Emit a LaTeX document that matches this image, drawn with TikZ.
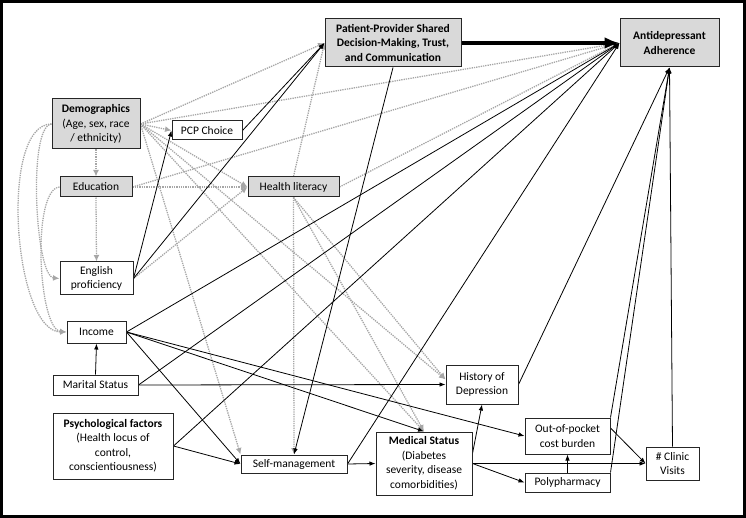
\documentclass[tikz,border=0pt]{standalone}
\usepackage{fontspec}
\setmainfont{Carlito}
\usepackage{tikz}
\usetikzlibrary{positioning}
\usetikzlibrary{backgrounds}
\usetikzlibrary{arrows.meta}
\tikzset{box/.style={draw=black!85, line width=1pt, fill=white, align=center, inner sep=1pt, font=\fontsize{11.5}{14.5}\selectfont}}
\tikzset{graybox/.style={box, fill=black!15}}
\tikzset{link/.style={draw=black, line width=0.8pt, -{Latex[length=6pt,width=4.5pt]}}}
\tikzset{dotlink/.style={draw=black!35, line width=1.3pt, dash pattern=on 1.3pt off 1pt, -{Latex[length=6.5pt,width=6pt]}}}

\begin{document}
\begin{tikzpicture}[x=1pt,y=-1pt]
\useasboundingbox (0,0) rectangle (746,518);
\draw[line width=2.5pt] (1.5,1.5) rectangle (744.5,516.5);

\node[graybox, minimum width=136pt, minimum height=48pt] (pps) at (393,43) {\textbf{Patient-Provider Shared}\\\textbf{Decision-Making, Trust,}\\\textbf{and Communication}};
\node[graybox, minimum width=99pt, minimum height=48pt] (aa) at (669.5,43) {\textbf{Antidepressant}\\\textbf{Adherence}};
\node[graybox, minimum width=88pt, minimum height=50pt] (dem) at (96,124) {\textbf{Demographics}\\(Age, sex, race\\/ ethnicity)};
\node[box, minimum width=70pt, minimum height=19pt] (pcp) at (207,130.5) {PCP Choice};
\node[graybox, minimum width=72pt, minimum height=20pt] (edu) at (96,187) {Education};
\node[graybox, minimum width=91pt, minimum height=20pt] (hl) at (293.5,187) {Health literacy};
\node[box, minimum width=73pt, minimum height=33pt] (eng) at (96.5,278.5) {English\\proficiency};
\node[box, minimum width=59pt, minimum height=22pt] (inc) at (96.5,332) {Income};
\node[box, minimum width=85pt, minimum height=20pt] (mar) at (95.5,385) {Marital Status};
\node[box, minimum width=120pt, minimum height=66pt] (psy) at (113,446) {\textbf{Psychological factors}\\(Health locus of\\control,\\conscientiousness)};
\node[box, minimum width=106pt, minimum height=18pt] (sm) at (294,464) {Self-management};
\node[box, minimum width=96pt, minimum height=63pt] (ms) at (424,463.5) {\textbf{Medical Status}\\(Diabetes\\severity, disease\\comorbidities)};
\node[box, minimum width=72pt, minimum height=39pt] (hod) at (482,384.5) {History of\\Depression};
\node[box, minimum width=85pt, minimum height=36pt] (oop) at (567.5,436) {Out-of-pocket\\cost burden};
\node[box, minimum width=85pt, minimum height=19pt] (poly) at (567.5,482.5) {Polypharmacy};
\node[box, minimum width=53pt, minimum height=33pt] (cv) at (672.5,463.5) {\# Clinic\\Visits};

\begin{scope}[on background layer]
% grey dotted paths
\foreach \dst in {pps.west,aa.west,pcp.west,hl.west,ms.north,sm.north west} {
\draw[dotlink] (dem.east) -- (\dst);
}
\draw[dotlink] (dem.east) -- ([yshift=5pt]hod.west);
\draw[dotlink] (dem.south) -- (edu.north);
\draw[dotlink] (dem.west) to[out=185,in=175,looseness=0.4] (eng.west);
\draw[dotlink] (dem.west) to[out=180,in=180,looseness=0.65] (inc.west);
\draw[dotlink] (edu.east) -- (hl.west);
\draw[dotlink] (edu.east) -- (aa.west);
\draw[dotlink] (edu.south) -- (eng.north);
\draw[dotlink] (edu.west) to[out=185,in=175,looseness=0.5] (inc.west);
\draw[dotlink] (eng.east) -- (hl.west);
\draw[dotlink] (hl.east) -- (aa.west);
\draw[dotlink] (hl.north) -- (pps.west);
\foreach \dst in {sm.north,ms.north} {
\draw[dotlink] (hl.south) -- (\dst);
}
\draw[dotlink] (hl.south) -- ([yshift=5pt]hod.west);

% solid paths
\draw[link, line width=3.5pt, -{Latex[length=15pt,width=12pt]}] (pps.east) -- (aa.west);
\foreach \src in {pcp.east,eng.east} {
\draw[link] (\src) -- (pps.west);
}
\draw[link] (eng.east) -- (pcp.west);
\draw[link] (pps.south) -- (sm.north);
\foreach \src in {inc.east,mar.east,psy.east,sm.east} {
\draw[link] (\src) -- (aa.west);
}
\foreach \src in {hod.east,oop.north east,poly.north east,cv.north} {
\draw[link] (\src) -- (aa.south);
}
\draw[link] (inc.east) -- (sm.west);
\draw[link] (inc.east) -- (ms.north);
\draw[link] (inc.east) -- (oop.west);
\draw[link] (mar.north) -- (inc.south);
\draw[link] (mar.east) -- (hod.west);
\draw[link] (psy.east) -- (sm.west);
\draw[link] (sm.east) -- (ms.west);
\draw[link] ([yshift=10pt]ms.east) -- (hod.south);
\draw[link] (ms.east) -- (cv.west);
\draw[link] (ms.east) -- (poly.west);
\draw[link] (poly.north) -- (oop.south);
\draw[link] ([yshift=8pt]oop.east) -- (cv.west);
\end{scope}
\end{tikzpicture}
\end{document}
